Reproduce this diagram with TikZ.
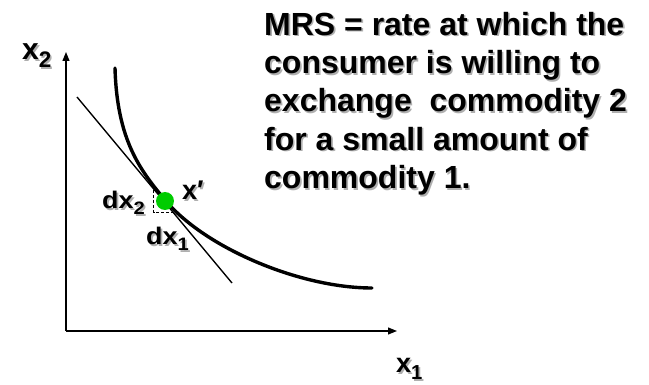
\documentclass[tikz,border=0pt]{standalone}
\usepackage{fontspec}
\setmainfont{Liberation Sans}
\usepackage{tikz}
\usetikzlibrary{arrows.meta,positioning}
\definecolor{dotgreen}{RGB}{0,204,0}
\definecolor{shadegray}{RGB}{175,175,175}
\newcommand{\shad}[1]{\makebox[0pt][l]{\hspace{1.6pt}\raisebox{-1.6pt}{\color{shadegray}#1}}#1}
\newcommand{\sub}[1]{\raisebox{-0.25em}{\scalebox{0.75}{#1}}}

\begin{document}
\begin{tikzpicture}[x=1pt, y=-1pt,
    axis/.style={-{Triangle[length=9pt,width=7pt]}, line width=1.2pt, black},
    indiff/.style={line width=3.4pt, black, line cap=round},
    tang/.style={line width=1.4pt, black},
    guide/.style={dash pattern=on 3pt off 2pt, line width=0.9pt},
    bundle/.style={circle, fill=dotgreen, minimum size=18pt, inner sep=0pt},
    biglbl/.style={font=\bfseries\fontsize{30}{30}\selectfont, inner sep=0pt, anchor=base west},
    midlbl/.style={font=\bfseries\fontsize{27}{27}\selectfont, inner sep=0pt, anchor=base west},
    smalllbl/.style={font=\bfseries\fontsize{24}{24}\selectfont, inner sep=0pt, anchor=base west},
    note/.style={font=\bfseries\fontsize{32}{38.3}\selectfont, inner sep=0pt, align=left, anchor=north west}
]
\useasboundingbox (0,0) rectangle (649,385);

% axes
\coordinate (o) at (66,331);
\coordinate (ytop) at (66,52);
\coordinate (xend) at (397,331);
\draw[axis] (o) -- (ytop);
\draw[axis] (o) -- (xend);

% tangent and indifference curve
\coordinate (tA) at (77,97);
\coordinate (tB) at (232,283);
\coordinate (c0) at (115,68);
\coordinate (c1) at (372,288);
\coordinate (xp) at (165,200);
\draw[tang] (tA) -- (tB);
\draw[indiff] (c0) .. controls (117,140) and (140,170) .. (xp)
    .. controls (205,248) and (300,288) .. (c1);

% small triangle
\coordinate (dA) at (153.5,190);
\coordinate (dB) at (153.5,212.5);
\coordinate (dC) at (174,212.5);
\draw[guide] (dA) -- (dB) -- (dC);

\node[bundle] (dot) at (165,201) {};

% labels
\node[biglbl] (x2lab) at (22,60) {\shad{x\sub{2}}};
\node[midlbl] (x1lab) at (396,373) {\shad{x\sub{1}}};
\node[midlbl] (xplab) at (182,200) {\shad{x′}};
\node[smalllbl] (dx2lab) at (102,209) {\scalebox{1.12}[1]{\shad{dx\sub{2}}}};
\node[smalllbl] (dx1lab) at (146,245) {\scalebox{1.12}[1]{\shad{dx\sub{1}}}};

\node[note] (mrs) at (264,12) {\shad{MRS = rate at which the}\\
    \shad{consumer is willing to}\\
    \shad{exchange~ commodity 2}\\
    \shad{for a small amount of}\\
    \shad{commodity 1.}};
\end{tikzpicture}
\end{document}
